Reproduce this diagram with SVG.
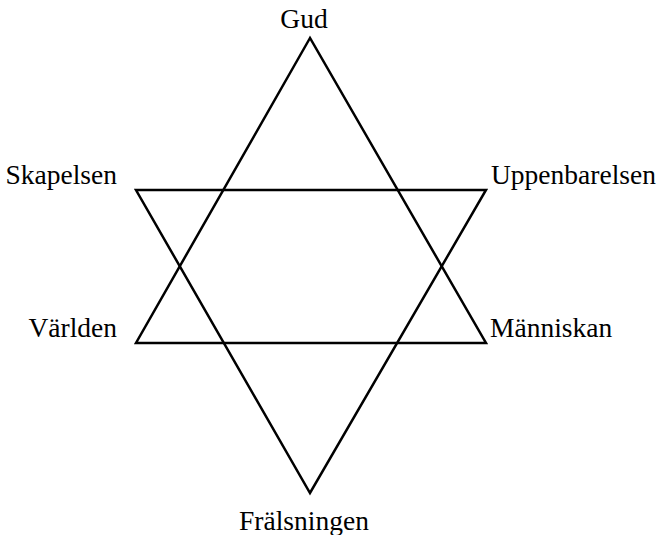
<svg xmlns="http://www.w3.org/2000/svg" width="662" height="535" viewBox="0 0 662 535">
<style>
.t{font-family:"Liberation Serif","Times New Roman",serif;font-size:27.5px;fill:#000}
.l{fill:none;stroke:#000;stroke-width:2.5;stroke-linejoin:miter}
</style>
<rect width="662" height="535" fill="#fff"/>
<g id="connectors">
<polygon class="l" points="310,38 136,343 486,343"/>
<polygon class="l" points="136,190 486,190 310,493"/>
</g>
<g id="gud"><text class="t" x="304" y="28" text-anchor="middle">Gud</text></g>
<g id="skapelsen"><text class="t" x="117" y="184" text-anchor="end">Skapelsen</text></g>
<g id="uppenbarelsen"><text class="t" x="491" y="184">Uppenbarelsen</text></g>
<g id="varlden"><text class="t" x="117" y="337" text-anchor="end">Världen</text></g>
<g id="manniskan"><text class="t" x="490" y="337">Människan</text></g>
<g id="fralsningen"><text class="t" x="304" y="530" text-anchor="middle">Frälsningen</text></g>
</svg>
